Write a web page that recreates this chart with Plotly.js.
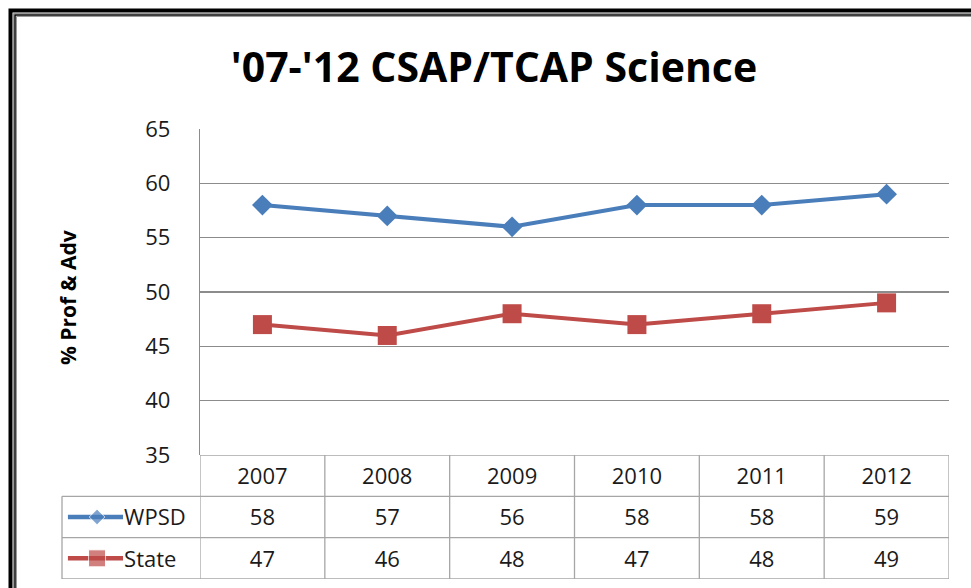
<!DOCTYPE html>
<html><head><meta charset="utf-8">
<script src="https://cdn.plot.ly/plotly-3.0.1.min.js"></script>
<style>html,body{margin:0;padding:0;background:#fff}#c{width:971px;height:588px}</style>
</head><body><div id="c"></div>
<script>
const years = ['2007','2008','2009','2010','2011','2012'];
const seriesNames = ['WPSD','State'];
const wpsd = [58,57,56,58,58,59];
const state = [47,46,48,47,48,49];
const titleText = "'07-'12 CSAP/TCAP Science";
const yTitle = '% Prof & Adv';

const W = 971, H = 588;
const px = v => v / W, py = v => 1 - v / H;
const FONT = 'Open Sans, sans-serif';
const blue = '#4A7EBB', red = '#BE4B48';
const tblLine = '#a6a6a6';
const txt = '#1a1a1a';
const rowText = 0.57; // vertical text position inside each table row

const plotL = 200, plotR = 949, plotT = 129, plotB = 455, tblB = 579, tblL = 62;

const traces = [
  {x: years, y: wpsd, name: seriesNames[0], mode: 'lines+markers', xaxis: 'x', yaxis: 'y',
   line: {color: blue, width: 4}, marker: {symbol: 'diamond', size: 16, color: blue}},
  {x: years, y: state, name: seriesNames[1], mode: 'lines+markers', xaxis: 'x', yaxis: 'y',
   line: {color: red, width: 4}, marker: {symbol: 'square', size: 19, color: red}},
  {x: years, y: years.map(() => 0 + rowText), text: years, mode: 'text', xaxis: 'x', yaxis: 'y2',
   textfont: {family: FONT, size: 22, color: txt}, hoverinfo: 'skip'},
  {x: years, y: years.map(() => 1 + rowText), text: wpsd.map(String), mode: 'text', xaxis: 'x', yaxis: 'y2',
   textfont: {family: FONT, size: 22, color: txt}, hoverinfo: 'skip'},
  {x: years, y: years.map(() => 2 + rowText), text: state.map(String), mode: 'text', xaxis: 'x', yaxis: 'y2',
   textfont: {family: FONT, size: 22, color: txt}, hoverinfo: 'skip'},
  {x: [0.043, 0.254, 0.442], y: [1.5, 1.5, 1.5], mode: 'lines+markers', xaxis: 'x3', yaxis: 'y2',
   line: {color: blue, width: 4.5}, marker: {symbol: 'diamond', size: [0, 12, 0], color: blue}, hoverinfo: 'skip'},
  {x: [0.043, 0.254, 0.442], y: [2.5, 2.5, 2.5], mode: 'lines+markers', xaxis: 'x3', yaxis: 'y2',
   line: {color: red, width: 4.5}, marker: {symbol: 'square', size: [0, 17, 0], color: red}, hoverinfo: 'skip'},
  {x: [0.45, 0.45], y: [1 + rowText, 2 + rowText], text: seriesNames, mode: 'text', textposition: 'middle right',
   xaxis: 'x3', yaxis: 'y2', textfont: {family: FONT, size: 22, color: txt}, hoverinfo: 'skip'}
];

const shapes = [];
shapes.push({type: 'line', xref: 'paper', yref: 'y2', x0: px(plotL), x1: px(plotR), y0: 0, y1: 0, line: {color: tblLine, width: 1.3}});
[1, 2, 3].forEach(r => shapes.push({type: 'line', xref: 'paper', yref: 'y2', x0: px(tblL), x1: px(plotR), y0: r, y1: r, line: {color: tblLine, width: 1.3}}));
for (let i = 0; i <= years.length; i++) {
  shapes.push({type: 'line', xref: 'x', yref: 'y2', x0: i - 0.5, x1: i - 0.5, y0: 0, y1: 3, line: {color: tblLine, width: 1.3}});
}
shapes.push({type: 'line', xref: 'paper', yref: 'y2', x0: px(tblL), x1: px(tblL), y0: 1, y1: 3, line: {color: tblLine, width: 1.3}});
shapes.push({type: 'rect', xref: 'paper', yref: 'paper', x0: px(10.5), y0: -0.1, x1: 1.1, y1: py(10.5), line: {color: '#000', width: 4}});
shapes.push({type: 'rect', xref: 'paper', yref: 'paper', x0: px(13.5), y0: -0.1, x1: 1.1, y1: py(13.5), line: {color: '#9a9a9a', width: 1}});
shapes.push({type: 'rect', xref: 'paper', yref: 'paper', x0: px(15), y0: -0.1, x1: 1.1, y1: py(15), line: {color: '#000', width: 1.5}});
shapes.push({type: 'rect', xref: 'paper', yref: 'paper', x0: px(16.5), y0: -0.1, x1: 1.1, y1: py(16.5), line: {color: '#9a9a9a', width: 1}});

const layout = {
  width: W, height: H,
  margin: {l: 0, r: 0, t: 0, b: 0},
  paper_bgcolor: '#fff', plot_bgcolor: '#fff',
  showlegend: false,
  title: {text: titleText, x: px(494), xanchor: 'center', y: py(68), yanchor: 'middle', yref: 'paper',
          font: {family: FONT, size: 41, color: '#000', weight: 'bold'}},
  xaxis: {domain: [px(plotL), px(plotR)], type: 'category', categoryarray: years, range: [-0.5, 5.5],
          showticklabels: false, showgrid: false, zeroline: false, showline: false, ticks: '', anchor: 'y', fixedrange: true},
  yaxis: {domain: [py(plotB), py(plotT)], range: [35, 65], dtick: 5, tick0: 35,
          showgrid: true, gridcolor: '#8c8c8c', gridwidth: 1.3, zeroline: false,
          showline: true, linecolor: '#8c8c8c', linewidth: 1.3, ticks: '', ticklabelstandoff: 24,
          tickfont: {family: FONT, size: 22, color: txt}, anchor: 'x', fixedrange: true},
  yaxis2: {domain: [py(tblB), py(plotB)], range: [3, 0], showgrid: false, zeroline: false,
           showticklabels: false, showline: false, ticks: '', anchor: 'x', fixedrange: true},
  xaxis3: {domain: [px(tblL), px(plotL)], range: [0, 1], showgrid: false, zeroline: false,
           showticklabels: false, showline: false, ticks: '', anchor: 'y2', fixedrange: true},
  shapes: shapes,
  annotations: [{text: yTitle, xref: 'paper', yref: 'paper', x: px(68), y: py(298), textangle: -90,
                 showarrow: false, xanchor: 'center', yanchor: 'middle',
                 font: {family: FONT, size: 21, color: '#000', weight: 'bold'}}]
};

Plotly.newPlot('c', traces, layout, {displayModeBar: false, staticPlot: true});
</script>
</body></html>
